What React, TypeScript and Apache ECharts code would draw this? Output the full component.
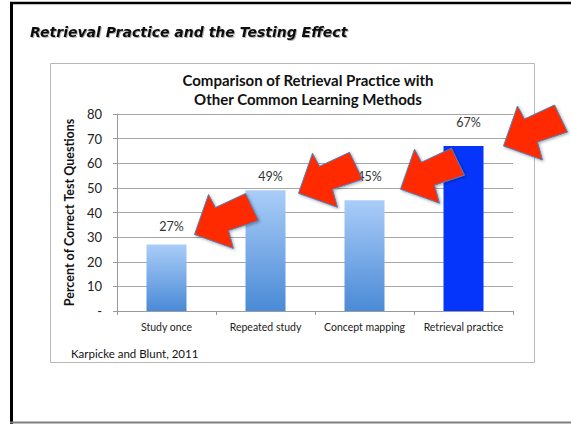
import React, { useEffect, useRef } from "react";
import * as echarts from "echarts";

const categories = ["Study once", "Repeated study", "Concept mapping", "Retrieval practice"];
const percentCorrect = [27, 49, 45, 67];
const highlighted = [false, false, false, true];
const yMin = 0;
const yMax = 80;
const yStep = 10;

// annotation placement (pixels from bar top centre) for the red arrows
const arrowDx = [28, 33, 36, 40];
const arrowDy = [-10, 3, -11, 0];
const labelDistance = [12, 7, 17, 17];

const arrowShape: number[][] = [
  [0, 0],
  [14, -40],
  [21, -27],
  [51, -41],
  [64, -14],
  [34, -4],
  [39, 14],
];

const FONT = "Lato";

export default function App() {
  const ref = useRef<HTMLDivElement>(null);
  useEffect(() => {
    if (!ref.current) return;
    const chart = echarts.init(ref.current, null, { renderer: "svg" });
    const barGradient = new echarts.graphic.LinearGradient(0, 0, 0, 1, [
      { offset: 0, color: "#aacdf8" },
      { offset: 1, color: "#4a8ad6" },
    ]);
    const option: any = {
      animation: false,
      backgroundColor: "#ffffff",
      title: [
        {
          text: "Retrieval Practice and the Testing Effect",
          left: 30,
          top: 25,
          padding: 0,
          textStyle: {
            fontFamily: "DejaVu Sans",
            fontStyle: "italic",
            fontWeight: "bold",
            fontSize: 14,
            color: "#111",
            textShadowColor: "rgba(0,0,0,0.3)",
            textShadowBlur: 1,
            textShadowOffsetX: 1,
            textShadowOffsetY: 1,
          },
        },
        {
          text: "Comparison of Retrieval Practice with\nOther Common Learning Methods",
          left: 308,
          top: 71,
          padding: 0,
          textAlign: "center",
          textStyle: {
            fontFamily: FONT,
            fontWeight: "bold",
            fontSize: 15,
            lineHeight: 18.5,
            color: "#111",
          },
        },
        {
          text: "Karpicke and Blunt, 2011",
          left: 71,
          top: 347,
          padding: 0,
          textStyle: { fontFamily: FONT, fontWeight: "normal", fontSize: 11.5, color: "#111" },
        },
      ],
      graphic: [
        {
          type: "rect",
          z: -1,
          shape: { x: 50.5, y: 63.5, width: 484, height: 299 },
          style: { fill: "#fff", stroke: "#b8b8b8", lineWidth: 1 },
        },
        { type: "line", shape: { x1: 11.5, y1: 2, x2: 11.5, y2: 424 }, style: { stroke: "#000", lineWidth: 3 } },
        { type: "line", shape: { x1: 10, y1: 3, x2: 571, y2: 3 }, style: { stroke: "#000", lineWidth: 2.5 } },
        { type: "line", shape: { x1: 10, y1: 422.5, x2: 571, y2: 422.5 }, style: { stroke: "#808080", lineWidth: 2 } },
      ],
      grid: { left: 117, right: 58, top: 114, bottom: 113 },
      xAxis: {
        type: "category",
        data: categories,
        axisLine: { lineStyle: { color: "#9a9a9a", width: 1 } },
        axisTick: { show: true, length: 4, lineStyle: { color: "#9a9a9a" } },
        axisLabel: { interval: 0, fontFamily: FONT, fontSize: 10.5, color: "#222", margin: 10 },
      },
      yAxis: {
        type: "value",
        min: yMin,
        max: yMax,
        interval: yStep,
        name: "Percent of Correct Test Questions",
        nameLocation: "middle",
        nameRotate: 90,
        nameGap: 37,
        nameTextStyle: { fontFamily: FONT, fontWeight: "bold", fontSize: 12.5, color: "#111" },
        axisLine: { show: true, lineStyle: { color: "#9a9a9a", width: 1 } },
        axisTick: { show: true, length: 4, lineStyle: { color: "#9a9a9a" } },
        splitLine: { show: true, lineStyle: { color: "#a6a6a6", width: 1 } },
        axisLabel: {
          fontFamily: FONT,
          fontSize: 13,
          color: "#222",
          margin: 15,
          formatter: (v: number) => (v === 0 ? "-" : String(v)),
        },
      },
      series: [
        {
          type: "bar",
          barWidth: 40,
          z: 2,
          data: percentCorrect.map((v, i) => ({
            value: v,
            itemStyle: { color: highlighted[i] ? "#0535fb" : barGradient },
            label: { distance: labelDistance[i] },
          })),
          label: {
            show: true,
            position: "top",
            offset: [5, 0],
            formatter: "{c}%",
            fontFamily: FONT,
            fontSize: 12.5,
            color: "#333",
          },
        },
        {
          type: "custom",
          z: 10,
          clip: false,
          silent: true,
          data: percentCorrect.map((v, i) => [i, v]),
          renderItem: (params: any, api: any) => {
            const idx = params.dataIndex;
            const pt = api.coord([api.value(0), api.value(1)]);
            const tx = pt[0] + arrowDx[idx];
            const ty = pt[1] + arrowDy[idx];
            return {
              type: "polygon",
              shape: { points: arrowShape.map(([x, y]) => [tx + x, ty + y]) },
              style: {
                fill: "#ff2a00",
                stroke: "#4f81bd",
                lineWidth: 1,
                shadowBlur: 3,
                shadowColor: "rgba(0,0,0,0.35)",
                shadowOffsetX: 1,
                shadowOffsetY: 1,
              },
            };
          },
        },
      ],
    };
    chart.setOption(option);
    return () => chart.dispose();
  }, []);
  return (
    <div
      ref={ref}
      style={{ position: "fixed", left: 0, top: 0, width: 571, height: 424 }}
    />
  );
}
